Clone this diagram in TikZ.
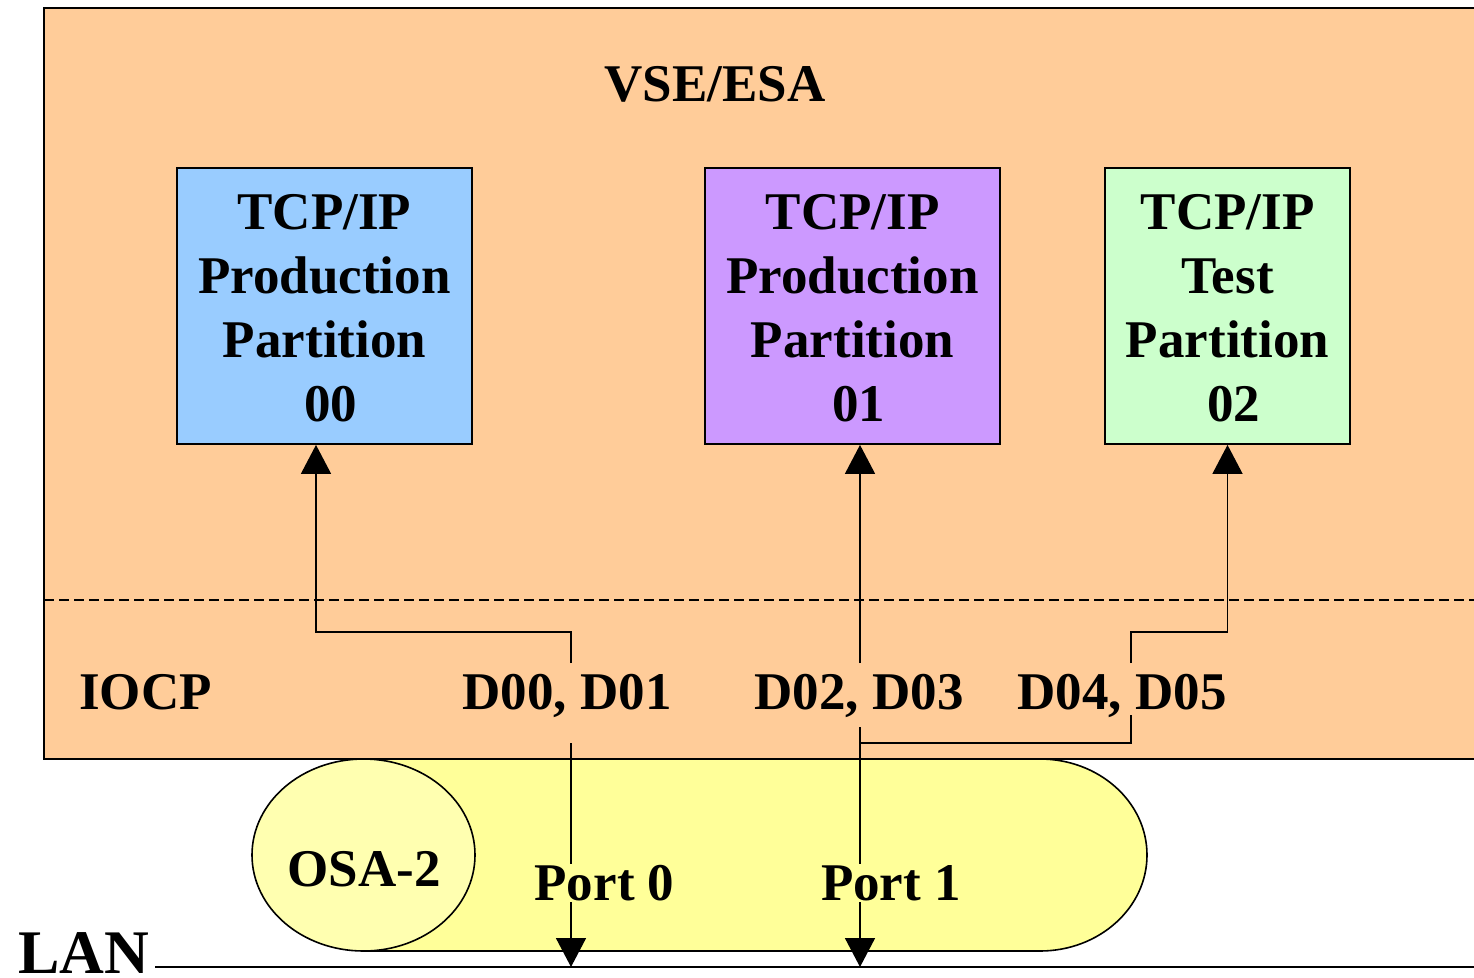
\documentclass[tikz,border=0pt]{standalone}
\usepackage{fontspec}
\setmainfont{Liberation Serif}
\usetikzlibrary{arrows.meta}
\definecolor{orangebg}{HTML}{FFCC99}
\definecolor{bluebox}{HTML}{99CCFF}
\definecolor{purplebox}{HTML}{CC99FF}
\definecolor{greenbox}{HTML}{CCFFCC}
\definecolor{yellowosa}{HTML}{FFFF99}
\definecolor{yellowell}{HTML}{FFFFB0}
\tikzset{
  lbl/.style={font=\fontsize{53}{64}\selectfont\bfseries, inner sep=0pt},
  partbox/.style={draw, line width=1.8pt, minimum width=295pt, minimum height=276pt,
    align=center, font=\fontsize{53}{64}\selectfont\bfseries, inner sep=0pt},
  conn/.style={line width=1.6pt},
  arr/.style={conn, -{Triangle[length=29pt,width=30pt]}},
}
\begin{document}
\begin{tikzpicture}[x=1pt,y=-1pt]
\useasboundingbox (0,0) rectangle (1474,977);
% VSE/ESA frame
\draw[line width=1.8pt, fill=orangebg] (44,8) rectangle (1490,759);
\draw[line width=1.4pt, dash pattern=on 10pt off 5pt] (44,600) -- (1490,600);
\node[lbl, anchor=base] (vse) at (715,101) {VSE/ESA};
% partitions
\node[partbox, fill=bluebox] (p0) at (324.5,306) {};
\node[partbox, fill=purplebox] (p1) at (852.5,306) {};
\node[partbox, fill=greenbox, minimum width=245pt] (p2) at (1227.5,306) {};
\node[lbl, align=center] (t0txt) at (324.5,308) {TCP/IP\\Production\\Partition\\\kern12pt 00};
\node[lbl, align=center] (t1txt) at (852.5,308) {TCP/IP\\Production\\Partition\\\kern12pt 01};
\node[lbl, align=center] (t2txt) at (1227.5,308) {TCP/IP\\Test\\Partition\\\kern12pt 02};
% OSA-2
\draw[line width=1.6pt, fill=yellowosa] (363.5,759) -- (1040,759) arc[start angle=-90, end angle=90, x radius=107, y radius=96] -- (363.5,951) -- cycle;
\draw[line width=1.6pt, fill=yellowell] (363.5,855) ellipse [x radius=111.5, y radius=96];
\node[lbl, anchor=base] (osa) at (364,886) {OSA-2};
% labels
\node[lbl, anchor=base west] (iocp) at (79,709) {IOCP};
\node[lbl, anchor=base] (d0) at (567,709) {D00, D01};
\node[lbl, anchor=base] (d1) at (859,709) {D02, D03};
\node[lbl, anchor=base] (d2) at (1122,709) {D04, D05};
% coordinates
\coordinate (a0) at (571,663);
\coordinate (a1) at (860,663);
\coordinate (a2) at (1131,663);
\coordinate (b0) at (571,743);
\coordinate (b1) at (860,727);
\coordinate (c1) at (860,743);
\coordinate (c2) at (1131,715);
\coordinate (lanL) at (155,967);
\coordinate (lanR) at (1490,967);
\coordinate (t0) at (571,967);
\coordinate (t1) at (860,967);
% connectors up
\draw[arr] (a0) -- (571,632) -| ([xshift=-8.5pt]p0.south);
\draw[arr] (a1) -- ([xshift=7.5pt]p1.south);
\draw[arr] (a2) -- (1131,632) -| (p2.south);
% connectors down
\draw[conn] (c1) -| (c2);
\draw[arr] (b0) -- (t0);
\draw[arr] (b1) -- (t1);
\node[lbl, anchor=base, fill=yellowosa, inner ysep=1pt] (port0) at (604.5,900) {Port 0};
\node[lbl, anchor=base, fill=yellowosa, inner ysep=1pt] (port1) at (891,900) {Port 1};
% LAN
\draw[line width=1.6pt] (lanL) -- (lanR);
\node[font=\fontsize{62}{70}\selectfont\bfseries, inner sep=0pt, anchor=base] (lan) at (83.5,973) {LAN};
\end{tikzpicture}
\end{document}
